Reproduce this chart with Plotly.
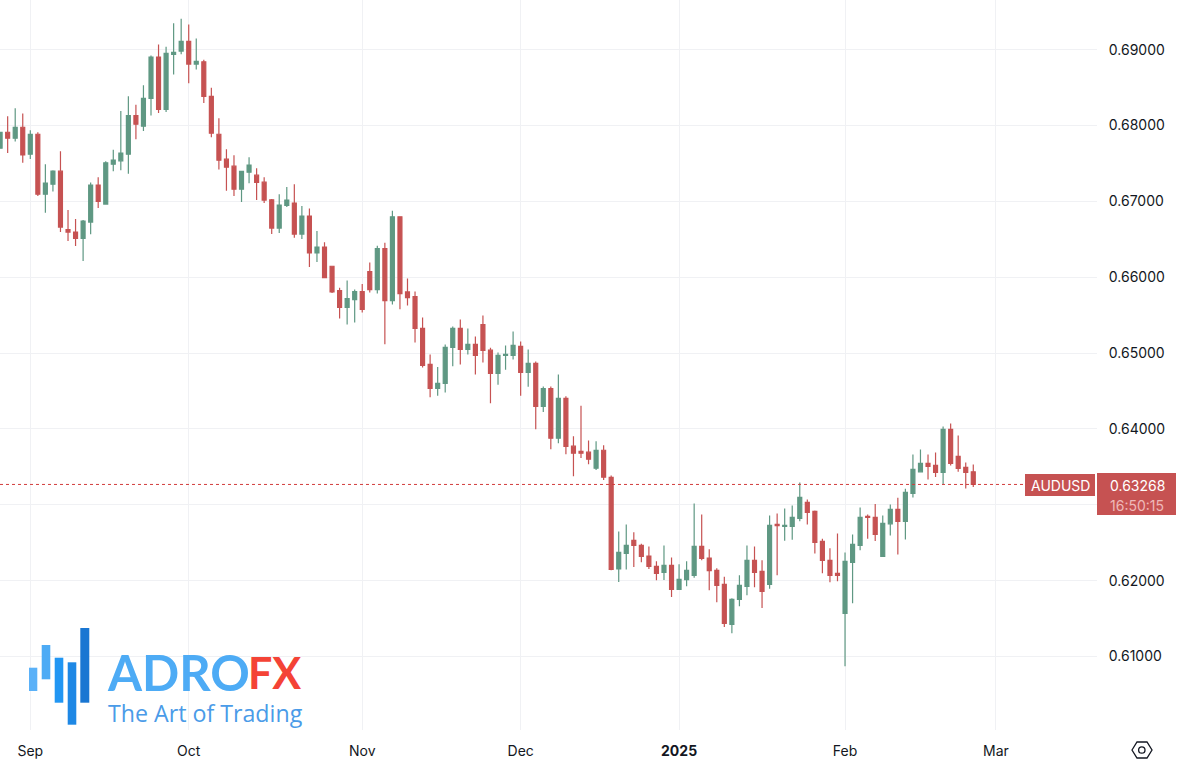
import plotly.graph_objects as go

session = list(range(-4, 126))
open_ = [.67702,.67912,.67833,.67978,.67623,.67886,.67096,.67228,.67399,.66627,
.66596,.66513,.66728,.67215,.66965,.67491,.67535,.67623,.68132,.67991,
.68360,.68904,.68215,.68939,.68982,.69110,.68811,.68842,.68386,.67886,
.67557,.67465,.67162,.67386,.67346,.67254,.67022,.66649,.66947,.66978,
.66570,.66807,.66320,.66399,.66145,
.65825,.65601,.65706,.65811,.66075,.65838,.66377,.65693,.66798,.65807,.65746,.65325,.64851,.64535,.64601,.65075,.65325,.65048,.65114,.65377,
.65039,.64732,.64969,.64969,.65088,.64746,.64864,.64298,.64531,.63877,.64404,.63772,.63706,.63693,.63482,.63719,.63360,
.62153,.62359,.62530,.62464,.62324,.62188,.62109,.62201,.61885,.62012,.62069,.62451,.62298,.62135,.61951,.61424,.61753,.61924,.62267,.62122,.61951,.62741,.62715,.62715,.62820,.63031,.62912,.62517,.62267,.62096,.61569,.62241,.62464,.62846,.62833,.62319,.62749,.62938,.62780,.63149,.63435,.63545,.63519,.63426,.63993,.63637,.63492,.63435]
close = [.67912,.67833,.67978,.67614,.67886,.67096,.67241,.67399,.66662,.66596,
.66513,.66741,.67215,.67000,.67509,.67544,.67636,.68132,.68018,.68360,
.68904,.68215,.68952,.68965,.69110,.68811,.68846,.68386,.67899,.67544,
.67452,.67162,.67395,.67478,.67250,.67018,.66649,.66952,.67018,.66570,
.66807,.66320,.66399,.65996,.65807,
.65601,.65719,.65811,.65575,.65838,.66377,.65693,.66798,.65785,.65732,.65325,.64838,.64535,.64601,.65075,.65325,.65048,.65114,.64969,.65035,
.64732,.64969,.64982,.65101,.64746,.64864,.64298,.64531,.63877,.64404,.63768,.63680,.63680,.63601,.63719,.63364,.62148,
.62372,.62464,.62464,.62320,.62188,.62096,.62201,.61885,.62017,.62135,.62451,.62293,.62131,.61938,.61437,.61753,.61938,.62267,.62109,.61859,.62728,.62723,.62728,.62833,.63097,.62899,.62504,.62267,.62069,.62069,.62254,.62478,.62833,.62833,.62609,.62754,.62938,.62780,.63163,.63466,.63545,.63505,.63426,.63993,.63545,.63479,.63426,.63268]
high = [.67912,.68123,.68228,.68158,.67939,.67912,.67491,.67412,.67662,.66886,
.66768,.66754,.67250,.67320,.67531,.67680,.68193,.68386,.68276,.68531,
.68925,.69070,.69040,.69351,.69408,.69333,.69149,.68868,.68500,.68096,
.67689,.67610,.67399,.67583,.67439,.67320,.67031,.67096,.67189,.67228,
.66939,.66908,.66610,.66461,.66145,
.65860,.65956,.65838,.65912,.66193,.66417,.66456,.66877,.66798,.65982,.65811,.65469,.64982,.64816,.65114,.65351,.65443,.65325,.65219,.65496,
.65070,.65009,.65101,.65285,.65154,.65048,.64890,.64561,.64561,.64719,.64430,.63904,.64307,.63846,.63838,.63785,.63386,
.62649,.62741,.62636,.62486,.62451,.62254,.62464,.62306,.62214,.62254,.63018,.62873,.62412,.62162,.62052,.61766,.62069,.62464,.62451,.62267,.62860,.62886,.62952,.62991,.63294,.63070,.62925,.62552,.62425,.62622,.62372,.62609,.62965,.62873,.63009,.62859,.63004,.63092,.63211,.63664,.63730,.63664,.63690,.64033,.64073,.63914,.63558,.63532]
low = [.67702,.67640,.67789,.67509,.67561,.67070,.66851,.67132,.66596,.66478,
.66412,.66215,.66566,.66912,.66965,.67399,.67412,.67364,.67820,.67930,
.68132,.68167,.68180,.68675,.68939,.68557,.68741,.68298,.67846,.67421,
.67140,.67070,.66991,.67241,.67018,.66978,.66570,.66583,.66925,.66522,
.66504,.66136,.66202,.65996,.65794,
.65456,.65377,.65404,.65535,.65798,.65785,.65118,.65640,.65579,.65627,.65140,.64811,.64417,.64439,.64482,.64825,.64851,.64982,.64719,.64877,
.64338,.64583,.64781,.64917,.64439,.64557,.63996,.64224,.63732,.63811,.63667,.63377,.63618,.63535,.63460,.63325,.62135,
.61982,.62148,.62179,.62241,.62153,.62004,.62008,.61784,.61885,.61924,.62039,.62267,.61872,.61714,.61389,.61306,.61661,.61806,.61911,.61639,.61894,.62069,.62526,.62539,.62781,.62741,.62359,.62096,.61977,.61990,.60871,.61701,.62399,.62552,.62522,.62319,.62596,.62345,.62543,.63097,.63435,.63334,.63365,.63268,.63519,.63435,.63215,.63233]

month_sessions = [0, 21, 44, 65, 86, 108, 128]
month_labels = ["Sep", "Oct", "Nov", "Dec", "<b>2025</b>", "Feb", "Mar"]
price_ticks = [.69, .68, .67, .66, .65, .64, .63, .62, .61]
price_labels = ["0.69000", "0.68000", "0.67000", "0.66000", "0.65000", "0.64000", "", "0.62000", "0.61000"]
last_price = .63268
symbol = "AUDUSD"
countdown = "16:50:15"

GREEN = "#5f9883"
RED = "#c65252"
GRID = "#f0f1f4"
W, H, PW, PH = 1178, 764, 1097, 730

def px(x):
    return x / PW
def py(y):
    return 1 - y / PH

def bar(x0, x1, y0, y1, color):
    return dict(type="rect", xref="paper", yref="paper", x0=px(x0), x1=px(x1), y0=py(y0), y1=py(y1),
                fillcolor=color, line_width=0, layer="above")

def label(x, y, text, size, color, family, xanchor="left"):
    return dict(xref="paper", yref="paper", x=px(x), y=py(y), text=text, showarrow=False,
                xanchor=xanchor, yanchor="middle", font=dict(size=size, color=color, family=family))

def outline(points):
    return "M " + " L ".join(f"{px(a)} {py(b)}" for a, b in points) + " Z"

fig = go.Figure(go.Candlestick(
    x=session, open=open_, high=high, low=low, close=close, whiskerwidth=0,
    increasing=dict(line=dict(color=GREEN, width=1.2), fillcolor=GREEN),
    decreasing=dict(line=dict(color=RED, width=1.2), fillcolor=RED),
    showlegend=False, hoverinfo="skip"))

shapes = [
    dict(type="line", xref="paper", yref="y", x0=0, x1=1, y0=last_price, y1=last_price,
         line=dict(color="#d23c3c", width=1, dash="dot"), layer="above"),
    bar(1025, 1095, 474, 496, RED),
    bar(1097, 1176, 473, 515, RED),
    bar(29, 37.3, 667.7, 691, "#5ab1f8"),
    bar(41.7, 50.3, 645, 679.3, "#4dabf5"),
    bar(54.7, 63.3, 657.7, 702.7, "#2196f3"),
    bar(67.7, 76.3, 662.3, 724.7, "#1e88e5"),
    bar(80.3, 89.3, 628, 702.7, "#1976d2"),
    dict(type="path", xref="paper", yref="paper", layer="above",
         path=outline([(1132, 750), (1137, 742), (1147, 742), (1152, 750), (1147, 758), (1137, 758)]),
         line=dict(color="#131722", width=1.3), fillcolor="rgba(0,0,0,0)"),
    dict(type="circle", xref="paper", yref="paper", layer="above",
         x0=px(1138.6), x1=px(1145), y0=py(753.2), y1=py(746.8),
         line=dict(color="#131722", width=1.3), fillcolor="rgba(0,0,0,0)"),
]

annotations = [
    label(1060, 485, symbol, 14, "#ffffff", "Inter", "center"),
    label(1137, 485, "0.63268", 14, "#ffffff", "Inter", "center"),
    label(1137, 505, countdown, 14, "#eeb9b9", "Inter", "center"),
    label(105, 672, "<b>ADRO</b>", 49, "#4dabf5", "Lato"),
    label(246, 672, "<b>FX</b>", 43, "#f44336", "Lato"),
    label(106, 713, "The Art of Trading", 23.2, "#4a9be8", "Open Sans"),
]

fig.update_layout(
    width=W, height=H, paper_bgcolor="#ffffff", plot_bgcolor="#ffffff",
    margin=dict(l=0, r=W - PW, t=0, b=H - PH, pad=0), showlegend=False, boxgap=0.25,
    font=dict(family="Inter", size=14, color="#131722"),
    xaxis=dict(range=[-4.016, 141.4], tickmode="array", tickvals=month_sessions, ticktext=month_labels,
               showgrid=True, gridcolor=GRID, gridwidth=1.3, zeroline=False, showline=False,
               rangeslider=dict(visible=False), ticks="outside", ticklen=8, tickcolor="rgba(0,0,0,0)"),
    yaxis=dict(range=[.6003, .69656], side="right", tickmode="array", tickvals=price_ticks, ticktext=price_labels,
               showgrid=True, gridcolor=GRID, gridwidth=1.3, zeroline=False, showline=False,
               ticks="outside", ticklen=8, tickcolor="rgba(0,0,0,0)"),
    shapes=shapes, annotations=annotations,
)
fig.write_html("out.html", post_script="document.body.style.margin='0';", config=dict(displayModeBar=False))
